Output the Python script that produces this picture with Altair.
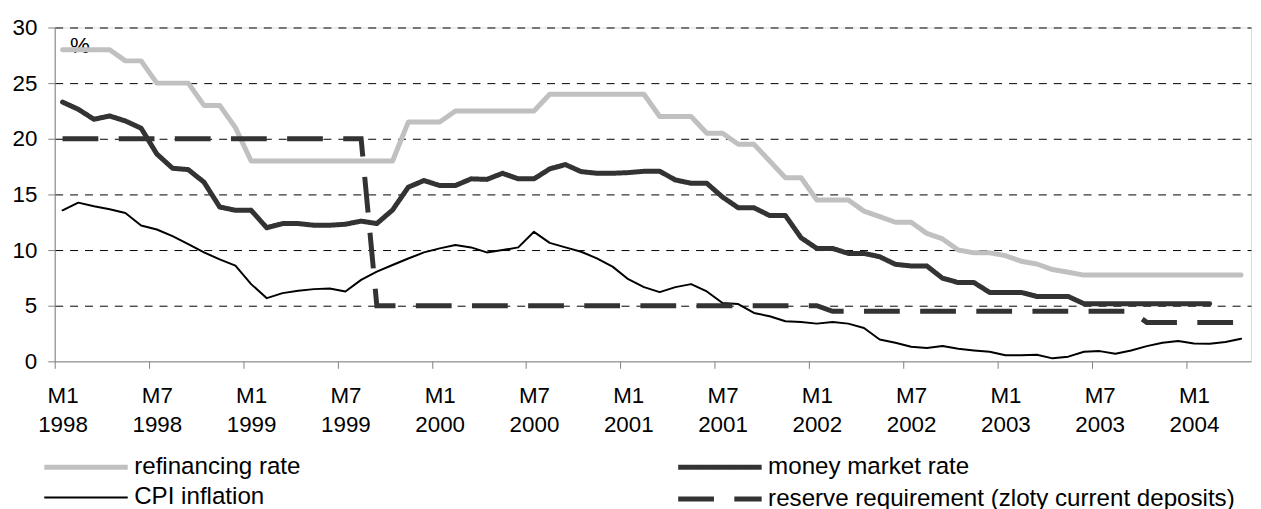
import altair as alt
import pandas as pd

# ---- data (monthly, M1 1998 .. M4 2004) ----
refinancing = [28, 28, 28, 28, 27, 27, 25, 25, 25, 23,
               23, 21, 18, 18, 18, 18, 18, 18, 18, 18,
               18, 18, 21.5, 21.5, 21.5, 22.5, 22.5, 22.5, 22.5, 22.5,
               22.5, 24, 24, 24, 24, 24, 24, 24, 22, 22,
               22, 20.5, 20.5, 19.5, 19.5, 18, 16.5, 16.5, 14.5, 14.5,
               14.5, 13.5, 13, 12.5, 12.5, 11.5, 11, 10, 9.75, 9.75,
               9.5, 9, 8.75, 8.25, 8, 7.75, 7.75, 7.75, 7.75, 7.75,
               7.75, 7.75, 7.75, 7.75, 7.75, 7.75]

money_market = [23.3, 22.65, 21.75, 22.05, 21.6, 20.95, 18.63, 17.35, 17.23, 16.1,
                13.87, 13.57, 13.57, 12.0, 12.38, 12.38, 12.23, 12.23, 12.32, 12.6,
                12.38, 13.6, 15.65, 16.25, 15.8, 15.8, 16.4, 16.35, 16.9, 16.4,
                16.4, 17.29, 17.68, 17.05, 16.9, 16.9, 16.96, 17.08, 17.08, 16.3,
                16.0, 16.0, 14.76, 13.8, 13.8, 13.1, 13.1, 11.1, 10.15, 10.15,
                9.7, 9.7, 9.4, 8.72, 8.57, 8.57, 7.47, 7.08, 7.08, 6.19,
                6.19, 6.19, 5.83, 5.83, 5.83, 5.18, 5.18, 5.18, 5.18, 5.18,
                5.18, 5.18, 5.18, 5.18]

cpi = [13.57, 14.26, 13.93, 13.66, 13.33, 12.2, 11.85, 11.25, 10.54, 9.79,
       9.17, 8.6, 6.94, 5.68, 6.13, 6.34, 6.49, 6.55, 6.28, 7.32,
       8.06, 8.66, 9.24, 9.79, 10.15, 10.45, 10.24, 9.79, 10.0, 10.24,
       11.64, 10.65, 10.24, 9.85, 9.26, 8.51, 7.38, 6.67, 6.22, 6.67,
       6.94, 6.28, 5.24, 5.15, 4.35, 4.05, 3.6, 3.54, 3.39, 3.54,
       3.39, 3.0, 1.96, 1.67, 1.31, 1.19, 1.37, 1.13, 0.98, 0.86,
       0.54, 0.54, 0.6, 0.27, 0.42, 0.86, 0.92, 0.68, 0.98, 1.37,
       1.67, 1.82, 1.61, 1.58, 1.73, 2.03]

reserve = [20, 20, 20, 20, 20, 20, 20, 20, 20, 20,
           20, 20, 20, 20, 20, 20, 20, 20, 20, 20,
           5, 5, 5, 5, 5, 5, 5, 5, 5, 5,
           5, 5, 5, 5, 5, 5, 5, 5, 5, 5,
           5, 5, 5, 5, 5, 5, 5, 5, 5, 4.5,
           4.5, 4.5, 4.5, 4.5, 4.5, 4.5, 4.5, 4.5, 4.5, 4.5,
           4.5, 4.5, 4.5, 4.5, 4.5, 4.5, 4.5, 4.5, 4.5, 3.5,
           3.5, 3.5, 3.5, 3.5, 3.5, 3.5]

tick_labels = [["M1", "1998"], ["M7", "1998"], ["M1", "1999"], ["M7", "1999"],
               ["M1", "2000"], ["M7", "2000"], ["M1", "2001"], ["M7", "2001"],
               ["M1", "2002"], ["M7", "2002"], ["M1", "2003"], ["M7", "2003"],
               ["M1", "2004"]]

series_names = ["refinancing rate", "money market rate", "CPI inflation",
                "reserve requirement (zloty current deposits)"]

rows = []
for name, vals in zip(series_names, [refinancing, money_market, cpi, reserve]):
    for i, v in enumerate(vals):
        rows.append({"idx": i, "value": v, "series": name})
df = pd.DataFrame(rows)

FONT = "Liberation Sans"
AX_FS = 22.5
LEG_FS = 24.3
W, H = 1204, 336
N_MONTHS = 76.13
cat_w = W / N_MONTHS

label_js = "[" + ",".join("['%s','%s']" % (a, b) for a, b in tick_labels) + "]"
x_axis = alt.Axis(
    values=[-0.5 + 6 * k for k in range(len(tick_labels))],
    labelExpr=label_js + "[round((datum.value + 0.5) / 6)]",
    labelOffset=cat_w / 2,
    labelFontSize=AX_FS, labelFont=FONT, labelColor="black",
    labelPadding=16, labelLineHeight=30, labelBaseline="top",
    labelFlush=False, labelOverlap=False,
    tickSize=7, tickColor="#808080", domainColor="#808080",
    tickWidth=1, domainWidth=1,
    grid=False, title=None,
)
y_axis = alt.Axis(
    values=[0, 5, 10, 15, 20, 25, 30],
    grid=True, gridColor="black", gridDash=[8, 7], gridWidth=1,
    gridOpacity={"condition": {"test": "datum.value === 0", "value": 0}, "value": 1},
    tickSize=7, tickColor="#808080", domainColor="#808080",
    tickWidth=1, domainWidth=1,
    labelFontSize=AX_FS, labelFont=FONT, labelColor="black", labelPadding=11,
    title="%", titleAngle=0, titleX=25, titleY=18, titleAlign="center",
    titleBaseline="middle", titleFontSize=AX_FS, titleFont=FONT,
    titleFontWeight="normal", titleColor="black",
)

x_enc = alt.X("idx:Q", scale=alt.Scale(domain=[-0.5, N_MONTHS - 0.5], nice=False, zero=False), axis=x_axis)
y_enc = alt.Y("value:Q", scale=alt.Scale(domain=[0, 30], nice=False), axis=y_axis)

# wide line symbol: unit path scaled by sqrt(size)/2 -> ~84 px long line
SYMBOL = "M-3.5,0H3.5"

def legend(x):
    return alt.Legend(
        orient="none", legendX=x, legendY=428, direction="vertical",
        symbolType=SYMBOL, symbolSize=24 * 24,
        labelFontSize=LEG_FS, labelFont=FONT, labelColor="black",
        labelOffset=34, labelLimit=1000, rowPadding=5,
        padding=0, title=None,
    )

# Layer A: refinancing rate + CPI inflation (left legend column)
dom_a = ["refinancing rate", "CPI inflation"]
leg_a = legend(17)
layer_a = alt.Chart(df).transform_filter(
    alt.FieldOneOfPredicate(field="series", oneOf=dom_a)
).mark_line(strokeJoin="round", strokeCap="round").encode(
    x=x_enc, y=y_enc,
    color=alt.Color("series:N", scale=alt.Scale(domain=dom_a, range=["#C0C0C0", "#000000"]), legend=leg_a),
    strokeWidth=alt.StrokeWidth("series:N", scale=alt.Scale(domain=dom_a, range=[5, 2]), legend=leg_a),
)

# Layer B: money market rate + reserve requirement (right legend column)
dom_b = ["money market rate", "reserve requirement (zloty current deposits)"]
leg_b = legend(655)
enc_b = dict(
    x=x_enc, y=y_enc,
    color=alt.Color("series:N", scale=alt.Scale(domain=dom_b, range=["#333333", "#333333"]), legend=leg_b),
    strokeWidth=alt.StrokeWidth("series:N", scale=alt.Scale(domain=dom_b, range=[5, 5]), legend=leg_b),
    strokeDash=alt.StrokeDash("series:N", scale=alt.Scale(domain=dom_b, range=[[1, 0], [36, 20.5]]), legend=leg_b),
)
money_line = alt.Chart(df).transform_filter(
    alt.FieldEqualPredicate(field="series", equal="money market rate")
).mark_line(strokeJoin="round", strokeCap="round").encode(**enc_b)
reserve_line = alt.Chart(df).transform_filter(
    alt.FieldEqualPredicate(field="series", equal="reserve requirement (zloty current deposits)")
).mark_line(strokeJoin="miter", strokeCap="butt").encode(**enc_b)
layer_b = alt.layer(money_line, reserve_line)

chart = alt.layer(layer_a, layer_b).resolve_scale(
    color="independent", strokeWidth="independent", strokeDash="independent"
).properties(
    width=W, height=H,
    padding={"left": 47, "top": 18, "right": 2, "bottom": 150},
    autosize=alt.AutoSizeParams(type="none"),
).configure_view(stroke=None).configure(font=FONT, background="white")

chart.save("out.html", embed_options={"renderer": "svg", "actions": False})
